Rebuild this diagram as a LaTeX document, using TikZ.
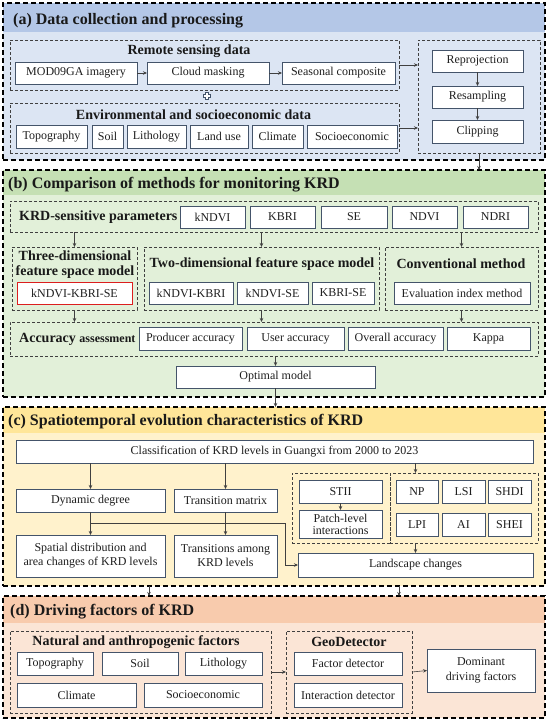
\documentclass[tikz,border=0pt]{standalone}
\usepackage{fontspec}
\setmainfont{Liberation Serif}
\usetikzlibrary{arrows.meta,calc}
\definecolor{bdr}{RGB}{68,84,106}
\definecolor{aH}{RGB}{180,199,231}
\definecolor{aB}{RGB}{220,229,243}
\definecolor{bH}{RGB}{197,224,180}
\definecolor{bB}{RGB}{226,240,217}
\definecolor{cH}{RGB}{255,230,153}
\definecolor{cB}{RGB}{255,242,204}
\definecolor{dH}{RGB}{248,203,173}
\definecolor{dB}{RGB}{251,229,214}
\definecolor{redb}{RGB}{220,30,30}
\tikzset{
 bx/.style={draw=bdr, line width=0.9pt, fill=white, inner sep=0pt, outer sep=0pt, align=center, font=\fontsize{12}{14}\selectfont, text=black!88},
 redbox/.style={bx, draw=redb},
 grp/.style={draw=black!75, line width=0.8pt, dash pattern=on 3pt off 2pt, inner sep=0pt, outer sep=0pt},
 secbox/.style={draw=black, line width=1.3pt, dash pattern=on 5pt off 3pt, inner sep=0pt, outer sep=0pt},
 ttl/.style={font=\fontsize{16}{18}\selectfont\bfseries, anchor=west, inner sep=0pt, text=black!90},
 sub/.style={font=\fontsize{14}{15}\selectfont\bfseries, inner sep=0pt, align=center, text=black!90},
 arr/.style={draw=black!75, line width=0.6pt, -{Stealth[length=4pt,width=3.5pt]}},
}
\newcommand\rbox[7]{\node[#1, minimum width={#5-#3}, minimum height={#6-#4}] (#2) at ({(#3+#5)/2},{(#4+#6)/2}) {#7};}
\begin{document}
\begin{tikzpicture}[x=1pt,y=-1pt]
\useasboundingbox (0,0) rectangle (550,723);
% ---------- section backgrounds
\fill[aB] (3,3) rectangle (545,160);
\fill[aH] (3,3) rectangle (545,32);
\fill[bB] (3,170) rectangle (545,397);
\fill[bH] (3,170) rectangle (545,195);
\fill[cB] (3,407) rectangle (545,586);
\fill[cH] (3,407) rectangle (545,433);
\fill[dB] (3,596) rectangle (545,718);
\fill[dH] (3,596) rectangle (545,623);
\rbox{secbox}{secA}{3}{3}{545}{160}{}
\rbox{secbox}{secB}{3}{170}{545}{397}{}
\rbox{secbox}{secC}{3}{407}{545}{586}{}
\rbox{secbox}{secD}{3}{596}{545}{718}{}
\node[ttl] (tA) at (13,20.5) {(a) Data collection and processing};
\node[ttl] (tB) at (8,184.5) {(b) Comparison of methods for monitoring KRD};
\node[ttl] (tC) at (8,422) {(c) Spatiotemporal evolution characteristics of KRD};
\node[ttl] (tD) at (10,611.5) {(d) Driving factors of KRD};
% ---------- (a)
\rbox{grp}{rs}{10}{40}{399}{90}{}
\rbox{grp}{env}{10}{103}{399}{153}{}
\rbox{grp}{proc}{418}{40}{540}{153}{}
\node[sub] (rsT) at (189,51) {Remote sensing data};
\node[sub] (envT) at (193.5,114.5) {Environmental and socioeconomic data};
\rbox{bx}{mod}{15}{62}{137}{84}{MOD09GA imagery}
\rbox{bx}{cloud}{147}{62}{269}{84}{Cloud masking}
\rbox{bx}{seas}{282}{62}{395}{84}{Seasonal composite}
\rbox{bx}{topoA}{16}{125}{87}{148}{Topography}
\rbox{bx}{soilA}{92}{125}{123}{148}{Soil}
\rbox{bx}{lithA}{127}{125}{186}{148}{Lithology}
\rbox{bx}{landA}{190}{125}{248}{148}{Land use}
\rbox{bx}{climA}{252}{125}{303}{148}{Climate}
\rbox{bx}{socA}{307}{125}{397}{148}{Socioeconomic}
\rbox{bx}{rep}{432}{50}{523}{72}{Reprojection}
\rbox{bx}{res}{432}{86}{523}{108}{Resampling}
\rbox{bx}{clip}{432}{120}{523}{143}{Clipping}
\draw[bdr, fill=white, line width=0.5pt, shift={(207,96)}]
  (-1.3,-3.6) -- (1.3,-3.6) -- (1.3,-1.3) -- (3.6,-1.3) -- (3.6,1.3) -- (1.3,1.3)
  -- (1.3,3.6) -- (-1.3,3.6) -- (-1.3,1.3) -- (-3.6,1.3) -- (-3.6,-1.3) -- (-1.3,-1.3) -- cycle;
\draw[arr] (mod) -- (cloud);
\draw[arr] (cloud) -- (seas);
\draw[arr] (rs.east) -- (rs.east -| proc.west);
\draw[arr] (env.east) -- (env.east -| proc.west);
\draw[arr] (rep) -- (res);
\draw[arr] (res) -- (clip);
\draw[arr] (proc.south) -- (proc.south |- secB.north);
% ---------- (b)
\rbox{grp}{param}{10}{201}{538}{232}{}
\rbox{grp}{three}{12}{247}{137}{310}{}
\rbox{grp}{two}{144}{247}{379}{310}{}
\rbox{grp}{conv}{385}{247}{538}{310}{}
\rbox{grp}{acc}{10}{322}{538}{356}{}
\node[sub, anchor=west] (paramT) at (19,217) {KRD-sensitive parameters};
\node[sub, align=center] (threeT) at (75,264.5) {Three-dimensional\\feature space model};
\node[sub] (twoT) at (262,264) {Two-dimensional feature space model};
\node[sub] (convT) at (461,264) {Conventional method};
\node[sub, anchor=west] (accT) at (19,339) {Accuracy {\fontsize{12}{14}\selectfont assessment}};
\rbox{bx}{kndvi}{180}{206}{245}{228}{kNDVI}
\rbox{bx}{kbri}{250}{206}{315}{228}{KBRI}
\rbox{bx}{se}{321}{206}{387}{228}{SE}
\rbox{bx}{ndvi}{392}{206}{457}{228}{NDVI}
\rbox{bx}{ndri}{463}{206}{528}{228}{NDRI}
\rbox{redbox}{kks}{17}{282}{132}{304}{kNDVI-KBRI-SE}
\rbox{bx}{kk}{149}{282}{233}{304}{kNDVI-KBRI}
\rbox{bx}{ks}{237}{282}{308}{304}{kNDVI-SE}
\rbox{bx}{bs}{312}{282}{374}{304}{KBRI-SE}
\rbox{bx}{evalm}{394}{282}{530}{304}{Evaluation index method}
\rbox{bx}{prod}{139}{327}{242}{350}{Producer accuracy}
\rbox{bx}{user}{247}{327}{344}{350}{User accuracy}
\rbox{bx}{over}{348}{327}{443}{350}{Overall accuracy}
\rbox{bx}{kappa}{447}{327}{530}{350}{Kappa}
\rbox{bx}{opt}{176}{366}{375}{388}{Optimal model}
\draw[arr] (param.south -| three.north) -- (three.north);
\draw[arr] (param.south -| two.north) -- (two.north);
\draw[arr] (param.south -| conv.north) -- (conv.north);
\draw[arr] (three.south) -- (three.south |- acc.north);
\draw[arr] (two.south) -- (two.south |- acc.north);
\draw[arr] (conv.south) -- (conv.south |- acc.north);
\draw[arr] (acc.south -| opt.north) -- (opt.north);
\draw[arr] (opt.south) -- (opt.south |- secC.north);
% ---------- (c)
\rbox{bx}{cls}{16}{440}{533}{463}{Classification of KRD levels in Guangxi from 2000 to 2023}
\rbox{bx}{dyn}{16}{489}{165}{512}{Dynamic degree}
\rbox{bx}{trm}{174}{489}{277}{512}{Transition matrix}
\rbox{bx}{spat}{16}{535}{165}{577}{Spatial distribution and\\area changes of KRD levels}
\rbox{bx}{trn}{174}{535}{277}{577}{Transitions among\\KRD levels}
\rbox{grp}{gl}{292}{473}{390}{543}{}
\rbox{grp}{gr}{390}{473}{538}{543}{}
\rbox{bx}{stii}{299}{480}{382}{503}{STII}
\rbox{bx, font=\fontsize{12}{12}\selectfont}{patch}{299}{510}{382}{538}{Patch-level\\interactions}
\rbox{bx}{np}{396}{480}{438}{503}{NP}
\rbox{bx}{lsi}{442}{480}{485}{503}{LSI}
\rbox{bx}{shdi}{488}{480}{531}{503}{SHDI}
\rbox{bx}{lpi}{396}{513}{438}{536}{LPI}
\rbox{bx}{ai}{442}{513}{485}{536}{AI}
\rbox{bx}{shei}{488}{513}{531}{536}{SHEI}
\rbox{bx}{land}{298}{553}{533}{577}{Landscape changes}
\draw[arr] (cls.south -| dyn.north) -- (dyn.north);
\draw[arr] (cls.south -| trm.north) -- (trm.north);
\draw[arr] (cls.south -| land.north) -- (gr.north -| land.north);
\draw[arr] (stii) -- (patch);
\draw[arr] (dyn) -- (spat);
\draw[arr] (trm) -- (trn);
\draw[arr] (gr.south -| land.north) -- (land.north);
\coordinate (j1) at (90.5,523);
\coordinate (j2) at (285,523);
\draw[arr] (j1) -- (j2) |- (land.west);
\coordinate (cd1) at (149,0);
\coordinate (cd2) at (399,0);
\draw[arr] (secC.south -| cd1) -- (secD.north -| cd1);
\draw[arr] (secC.south -| cd2) -- (secD.north -| cd2);
% ---------- (d)
\rbox{grp}{nat}{10}{631}{271}{713}{}
\rbox{grp}{geo}{286}{631}{412}{713}{}
\node[sub] (natT) at (136,642) {Natural and anthropogenic factors};
\node[sub] (geoT) at (349,642) {GeoDetector};
\rbox{bx}{topoD}{17}{652}{93}{675}{Topography}
\rbox{bx}{soilD}{102}{652}{178}{675}{Soil}
\rbox{bx}{lithD}{185}{652}{262}{675}{Lithology}
\rbox{bx}{climD}{17}{683}{136}{707}{Climate}
\rbox{bx}{socD}{144}{683}{262}{707}{Socioeconomic}
\rbox{bx}{fac}{294}{652}{402}{675}{Factor detector}
\rbox{bx}{inter}{294}{683}{402}{707}{Interaction detector}
\rbox{bx, font=\fontsize{12}{15}\selectfont}{dom}{427}{649}{535}{692}{Dominant\\driving factors}
\draw[arr] (nat.east) -- (geo.west);
\draw[arr] (geo.east) -- (dom.west);
\end{tikzpicture}
\end{document}
